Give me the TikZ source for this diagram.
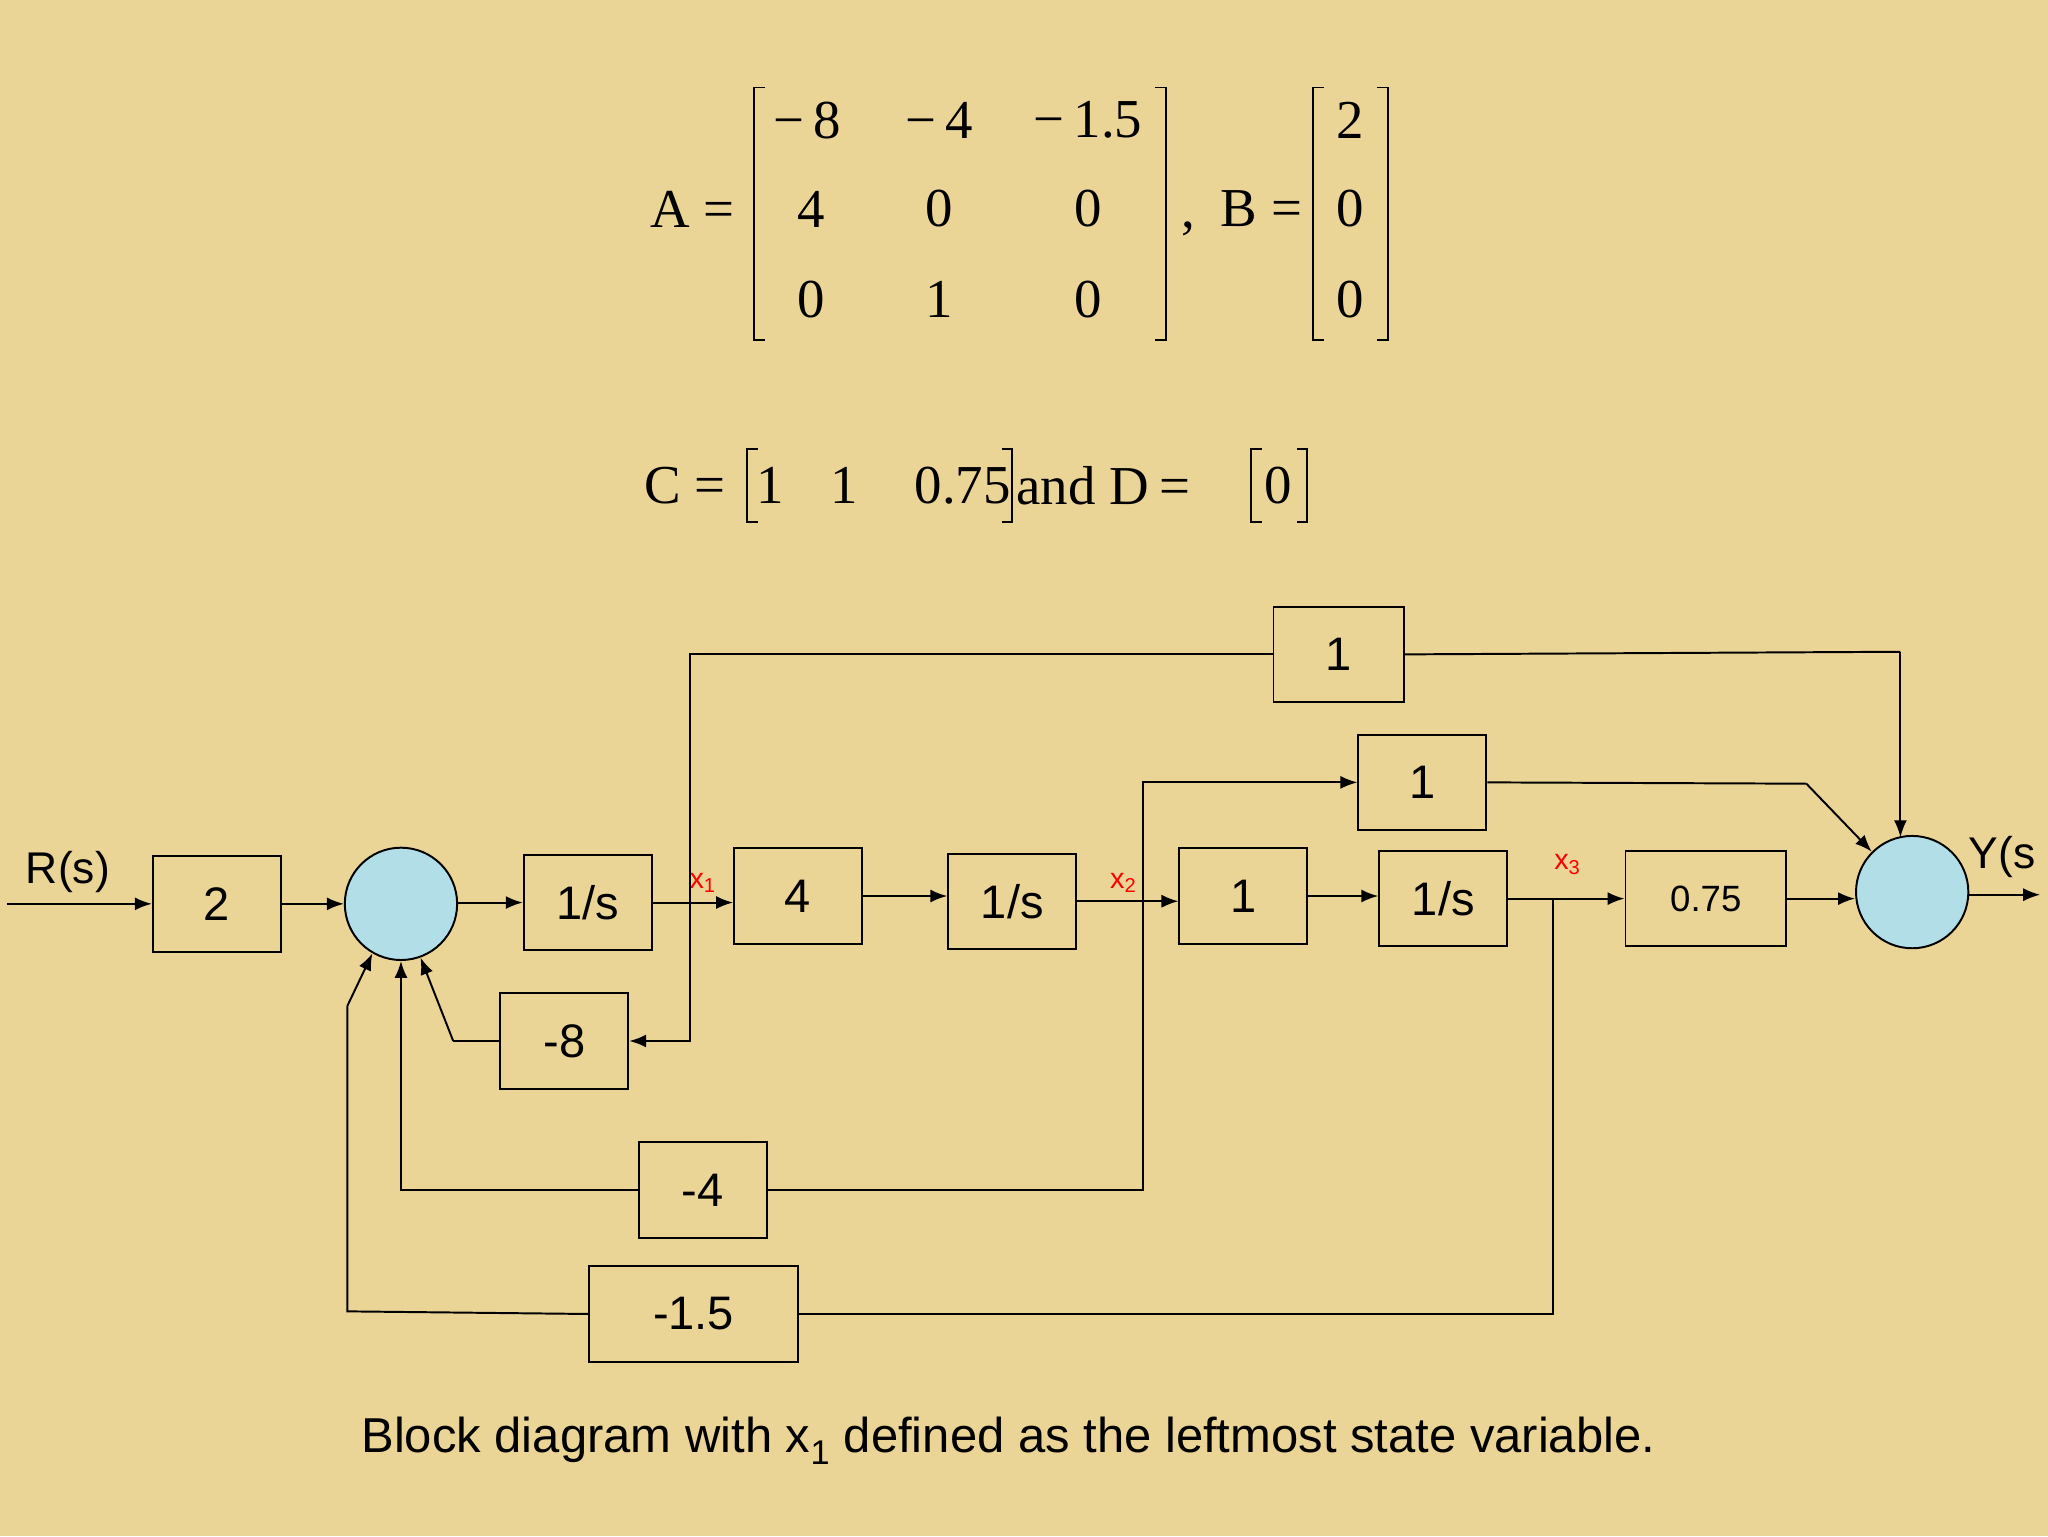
\documentclass[tikz,border=0pt]{standalone}
\usepackage{fontspec}
\setmainfont{Liberation Sans}
\newfontfamily\serifm{Liberation Serif}
\usetikzlibrary{arrows.meta}
\definecolor{bg}{RGB}{234,212,150}
\definecolor{sumc}{RGB}{178,222,232}
\begin{document}
\begin{tikzpicture}[x=1pt,y=-1pt,
  blk/.style={draw,line width=1.5pt,minimum width=98pt,minimum height=73pt,inner sep=0pt,font=\fontsize{36}{40}\selectfont},
  sumn/.style={circle,draw,line width=1.5pt,fill=sumc,minimum size=86pt,inner sep=0pt},
  ln/.style={line width=1.5pt},
  ar/.style={line width=1.5pt,-{Latex[length=13pt,width=10pt]}},
  xl/.style={red,font=\fontsize{22}{24}\selectfont,inner sep=0pt},
  mt/.style={font=\fontsize{42}{46}\selectfont\serifm,inner sep=0pt},
  brk/.style={line width=1.5pt}]
\fill[bg] (0,0) rectangle (1568,1176);
\useasboundingbox (0,0) rectangle (1568,1176);
% matrix A
\node[mt] (Aeq) at (530,160) {A =};
\draw[brk] (586,67) -- (577,67) -- (577,260) -- (586,260);
\draw[brk] (884,67) -- (893,67) -- (893,260) -- (884,260);
\node[mt] (a11) at (621,92) {\kern-6pt−\,8};
\node[mt] (a12) at (719,92) {−\,4};
\node[mt] (a13) at (833,92) {−\,1.5};
\node[mt] (a21) at (621,160) {4};
\node[mt] (a22) at (719,160) {0};
\node[mt] (a23) at (833,160) {0};
\node[mt] (a31) at (621,229) {0};
\node[mt] (a32) at (719,229) {1};
\node[mt] (a33) at (833,229) {0};
\node[mt,anchor=base west] (Bcm) at (904,174) {,};
\node[mt,anchor=east] (Beq) at (997,160) {B =};
\draw[brk] (1014,67) -- (1005,67) -- (1005,260) -- (1014,260);
\draw[brk] (1054,67) -- (1063,67) -- (1063,260) -- (1054,260);
\node[mt] (b1v) at (1034,92) {2};
\node[mt] (b2v) at (1034,160) {0};
\node[mt] (b3v) at (1034,229) {0};
% C and D
\node[mt,anchor=west] (Ceq) at (493,372) {C =};
\draw[brk] (580,344) -- (572,344) -- (572,400) -- (580,400);
\draw[brk] (767,344) -- (775,344) -- (775,400) -- (767,400);
\node[mt] (c1) at (590,372) {1};
\node[mt] (c2) at (646,372) {1};
\node[mt] (c3) at (737,372) {0.75};
\node[mt,anchor=west] (Dand) at (778,372) {and D\hspace{8pt}=};
\draw[brk] (966,344) -- (958,344) -- (958,400) -- (966,400);
\draw[brk] (993,344) -- (1001,344) -- (1001,400) -- (993,400);
\node[mt] (d1) at (979,372) {0};
% blocks
\node[font=\fontsize{34}{38}\selectfont] (R) at (52,668) {R(s)};
\node[blk] (b2) at (166,692) {2};
\node[sumn] (s1) at (307,692) {};
\node[blk] (i1) at (450,691) {1/s};
\node[blk] (b4) at (611,686) {4};
\node[blk] (i2) at (775,690) {1/s};
\node[blk] (b1) at (952,686) {1};
\node[blk] (i3) at (1105,688) {1/s};
\node[blk,minimum width=123pt,font=\fontsize{28}{30}\selectfont] (b075) at (1306,688) {0.75};
\node[sumn] (s2) at (1464,683) {};
\node[font=\fontsize{34}{38}\selectfont,anchor=west,inner sep=0pt] (Y) at (1507,656) {Y(s};
\node[blk,minimum width=100pt] (t1) at (1025,501) {1};
\node[blk] (m1) at (1089,599) {1};
\node[blk] (n8) at (432,797) {-8};
\node[blk] (n4) at (538,911) {-4};
\node[blk,minimum width=160pt] (n15) at (531,1006) {-1.5};
\node[xl] (x1) at (538,676) {x\textsubscript{1}};
\node[xl] (x2) at (860,676) {x\textsubscript{2}};
\node[xl] (x3) at (1200,662) {x\textsubscript{3}};
\node[font=\fontsize{37.5}{40}\selectfont] (cap) at (772,1103) {Block diagram with x\textsubscript{1} defined as the leftmost state variable.};
\coordinate (rin) at (5,692);
\coordinate (yout) at (1562,685);
% forward path
\draw[ar] (rin) -- (b2.west);
\draw[ar] (b2.east) -- (s1.west);
\draw[ar] (s1.east |- i1) -- (i1.west);
\draw[ar] (i1.east) -- (b4.west |- i1);
\draw[ar] (b4.east) -- (i2.west |- b4);
\draw[ar] (i2.east) -- (b1.west |- i2);
\draw[ar] (b1.east) -- (i3.west |- b1);
\draw[ar] (i3.east) -- (b075.west);
\draw[ar] (b075.east) -- (s2.west |- b075);
\draw[ar] (s2.east |- yout) -- (yout);
% branch x1
\coordinate (p1) at (528,691);
\draw[ln] (p1) |- (t1.west);
\draw[ar] (p1) |- (n8.east);
\draw[ln] (t1.east) -- (1455,499);
\draw[ar] (1455,499) -- (1455,641);
\coordinate (k8) at (347,797);
\draw[ln] (n8.west) -- (k8);
\draw[ar] (k8) -- (s1.290);
% branch x2
\coordinate (p2) at (875,690);
\draw[ar] (p2) |- (m1.west);
\draw[ln] (p2) |- (n4.east);
\draw[ar] (n4.west) -| (s1.south);
\draw[ln] (m1.east) -- (1383,600);
\draw[ar] (1383,600) -- (s2.135);
% branch x3
\coordinate (p3) at (1189,688);
\draw[ln] (p3) |- (n15.east);
\draw[ln] (n15.west) -- (266,1004) -- (266,770);
\draw[ar] (266,770) -- (s1.240);
\end{tikzpicture}
\end{document}
